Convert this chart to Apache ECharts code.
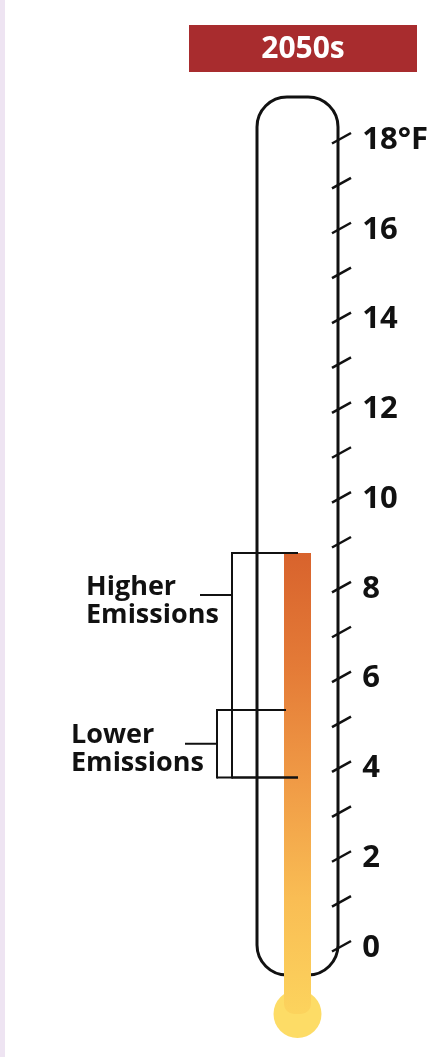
<!DOCTYPE html>
<html>
<head>
<meta charset="utf-8">
<style>
html,body{margin:0;padding:0;background:#fff;}
#c{width:431px;height:1057px;}
</style>
<script src="https://cdn.jsdelivr.net/npm/echarts@6/dist/echarts.min.js"></script>
</head>
<body>
<div id="c"></div>
<script>
// ---- data ----
var PERIOD = '2050s';
var UNIT = '°F';
var AXIS_MIN = 0, AXIS_MAX = 18;
var TICK_VALUES = [0,1,2,3,4,5,6,7,8,9,10,11,12,13,14,15,16,17,18];
var MERCURY_VALUE = 8.8;
var SCENARIOS = ['Higher\nEmissions', 'Lower\nEmissions'];
var SCENARIO_LOW = [3.8, 3.8];
var SCENARIO_HIGH = [8.8, 5.3];

// ---- layout (pixels) ----
var AXIS_X = 338, TUBE_LEFT = 257, TUBE_R = 30;
var BAR_LEFT = 284, BAR_RIGHT = 311;
var BRACKET_X = [232, 217];
var BRACKET_TOP_END = [298, 286];
var BRACKET_BOT_END = [298, 298];
var CONNECTOR_LEN = 32;

var chart = echarts.init(document.getElementById('c'), null, {renderer:'canvas'});

function tubeRender(params, api) {
  var top = api.coord([0, AXIS_MAX])[1] - 43;
  var bot = api.coord([0, AXIS_MIN])[1] + 27;
  var L = TUBE_LEFT, R = AXIS_X, r = TUBE_R, k = 0.5523 * r;
  var d = 'M' + L + ',' + (top + r) +
    ' C' + L + ',' + (top + r - k) + ' ' + (L + r - k) + ',' + top + ' ' + (L + r) + ',' + top +
    ' L' + (R - r) + ',' + top +
    ' C' + (R - r + k) + ',' + top + ' ' + R + ',' + (top + r - k) + ' ' + R + ',' + (top + r) +
    ' L' + R + ',' + (bot - r) +
    ' C' + R + ',' + (bot - r + k) + ' ' + (R - r + k) + ',' + bot + ' ' + (R - r) + ',' + bot +
    ' L' + (L + r) + ',' + bot +
    ' C' + (L + r - k) + ',' + bot + ' ' + L + ',' + (bot - r + k) + ' ' + L + ',' + (bot - r) + ' Z';
  return {type:'path', shape:{pathData:d}, style:{fill:null, stroke:'#111', lineWidth:3}};
}

function mercuryRender(params, api) {
  var yTop = api.coord([0, api.value(1)])[1];
  var bulbY = api.coord([0, AXIS_MIN])[1] + 66;
  var cx = (BAR_LEFT + BAR_RIGHT) / 2;
  return {type:'group', children:[
    {type:'circle', shape:{cx:cx, cy:bulbY, r:24}, style:{fill:'#fddc66'}},
    {type:'rect', shape:{x:BAR_LEFT, y:yTop, width:BAR_RIGHT-BAR_LEFT, height:bulbY-yTop, r:[0,0,10,10]},
     style:{fill:new echarts.graphic.LinearGradient(0,0,0,1,[
       {offset:0, color:'#d8632d'},
       {offset:0.25, color:'#e47b37'},
       {offset:0.5, color:'#f09b46'},
       {offset:0.75, color:'#f9bd54'},
       {offset:1, color:'#fcd35d'}
     ])}}
  ]};
}

function tickRender(params, api) {
  var p = api.coord([0, api.value(1)]);
  return {type:'line', shape:{x1:AXIS_X-6, y1:p[1]+3.5, x2:AXIS_X+13, y2:p[1]-7},
    style:{stroke:'#111', lineWidth:2.5}};
}

function bracketRender(params, api) {
  var i = params.dataIndex;
  var yLow = api.coord([0, api.value(1)])[1];
  var yHigh = api.coord([0, api.value(2)])[1];
  var bx = BRACKET_X[i];
  var cy = Math.min((yLow + yHigh) / 2, yHigh + 42);
  var cStart = bx - CONNECTOR_LEN;
  var st = {stroke:'#111', lineWidth:2};
  return {type:'group', children:[
    {type:'line', shape:{x1:bx, y1:yHigh, x2:BRACKET_TOP_END[i], y2:yHigh}, style:st},
    {type:'line', shape:{x1:bx, y1:yLow, x2:BRACKET_BOT_END[i], y2:yLow}, style:st},
    {type:'line', shape:{x1:bx, y1:yHigh-1, x2:bx, y2:yLow+1}, style:st},
    {type:'line', shape:{x1:cStart, y1:cy, x2:bx, y2:cy}, style:st},
    {type:'text', style:{text:SCENARIOS[i], x:cStart-114, y:cy+6, align:'left', verticalAlign:'middle',
      fill:'#111', fontFamily:'Open Sans', fontWeight:'bold', fontSize:27, lineHeight:28}}
  ]};
}

chart.setOption({
  animation:false,
  backgroundColor:'#ffffff',
  graphic:[
    {type:'rect', left:0, top:0, shape:{width:5, height:1057}, style:{fill:'#eee4f2'}},
    {type:'group', left:189, top:25, children:[
      {type:'rect', shape:{x:0, y:0, width:228, height:47}, style:{fill:'#a82c2e'}},
      {type:'text', x:114, y:24, style:{text:PERIOD, fill:'#fff', fontFamily:'Open Sans', fontWeight:'bold', fontSize:30, align:'center', verticalAlign:'middle'}}
    ]}
  ],
  grid:{left:0, right:431-AXIS_X, top:140, bottom:109},
  xAxis:{type:'value', min:0, max:AXIS_X, show:false},
  yAxis:{type:'value', position:'right', min:AXIS_MIN, max:AXIS_MAX, interval:2,
    axisLine:{show:false}, axisTick:{show:false}, splitLine:{show:false},
    axisLabel:{margin:27, color:'#111', fontFamily:'Open Sans', fontWeight:'bold', fontSize:31,
      padding:[0,0,12,0],
      formatter:function(v){ return v === AXIS_MAX ? v + UNIT : String(v); }}
  },
  series:[
    {type:'custom', renderItem:tubeRender, data:[[0,0]], clip:false, z:1, silent:true},
    {type:'custom', renderItem:mercuryRender, data:[[0, MERCURY_VALUE]], clip:false, z:2, silent:true},
    {type:'custom', renderItem:bracketRender, clip:false, z:3, silent:true,
      data:SCENARIOS.map(function(s,i){ return [0, SCENARIO_LOW[i], SCENARIO_HIGH[i]]; })},
    {type:'custom', renderItem:tickRender, clip:false, z:4, silent:true,
      data:TICK_VALUES.map(function(v){ return [0, v]; })}
  ]
});
</script>
</body>
</html>
